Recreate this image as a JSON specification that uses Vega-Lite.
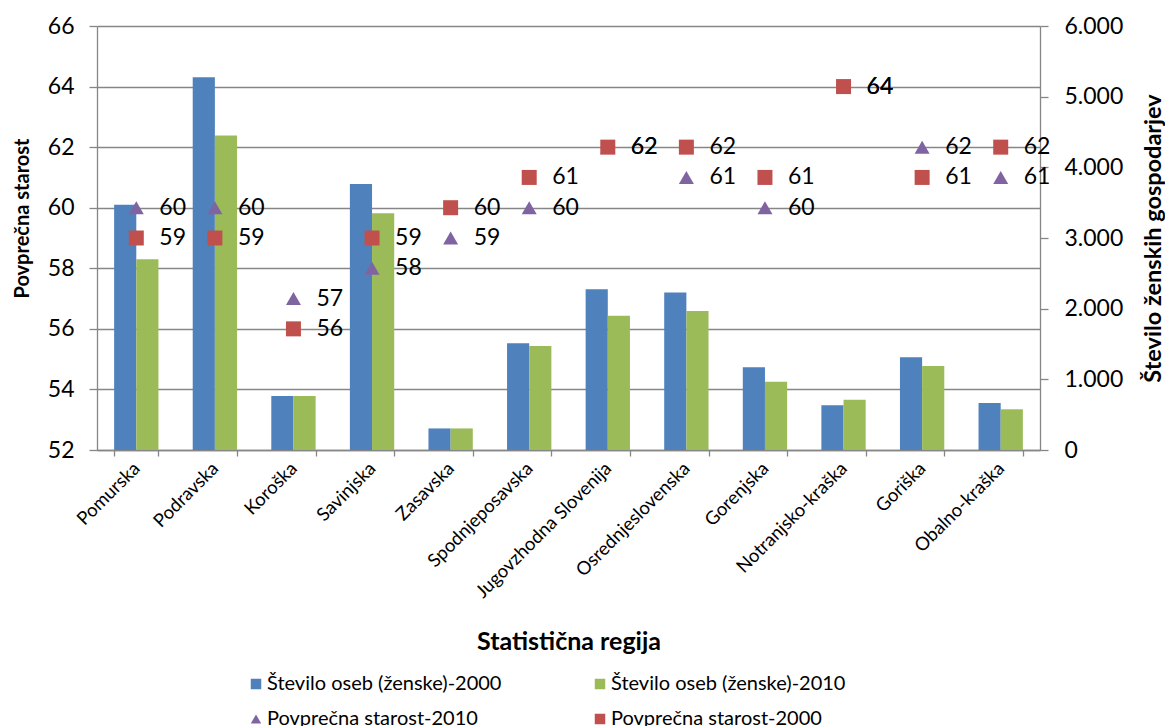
{
  "$schema": "https://vega.github.io/schema/vega-lite/v6.json",
  "width": 943,
  "height": 424,
  "autosize": {"type": "none"},
  "padding": {"left": 97, "top": 26, "right": 125, "bottom": 276},
  "background": "white",
  "config": {
    "font": "Lato",
    "view": {"stroke": null},
    "axis": {"labelColor": "black", "titleColor": "black", "domainColor": "#868686", "tickColor": "#868686", "domainWidth": 1.3, "tickWidth": 1.3}
  },
  "datasets": {
    "counts": [
      {"region": "Pomurska", "series": "Število oseb (ženske)-2000", "count": 3470},
      {"region": "Pomurska", "series": "Število oseb (ženske)-2010", "count": 2700},
      {"region": "Podravska", "series": "Število oseb (ženske)-2000", "count": 5275},
      {"region": "Podravska", "series": "Število oseb (ženske)-2010", "count": 4450},
      {"region": "Koroška", "series": "Število oseb (ženske)-2000", "count": 765},
      {"region": "Koroška", "series": "Število oseb (ženske)-2010", "count": 765},
      {"region": "Savinjska", "series": "Število oseb (ženske)-2000", "count": 3765},
      {"region": "Savinjska", "series": "Število oseb (ženske)-2010", "count": 3350},
      {"region": "Zasavska", "series": "Število oseb (ženske)-2000", "count": 305},
      {"region": "Zasavska", "series": "Število oseb (ženske)-2010", "count": 305},
      {"region": "Spodnjeposavska", "series": "Število oseb (ženske)-2000", "count": 1510},
      {"region": "Spodnjeposavska", "series": "Število oseb (ženske)-2010", "count": 1470},
      {"region": "Jugovzhodna Slovenija", "series": "Število oseb (ženske)-2000", "count": 2275},
      {"region": "Jugovzhodna Slovenija", "series": "Število oseb (ženske)-2010", "count": 1900},
      {"region": "Osrednjeslovenska", "series": "Število oseb (ženske)-2000", "count": 2230},
      {"region": "Osrednjeslovenska", "series": "Število oseb (ženske)-2010", "count": 1967},
      {"region": "Gorenjska", "series": "Število oseb (ženske)-2000", "count": 1170},
      {"region": "Gorenjska", "series": "Število oseb (ženske)-2010", "count": 967},
      {"region": "Notranjsko-kraška", "series": "Število oseb (ženske)-2000", "count": 632},
      {"region": "Notranjsko-kraška", "series": "Število oseb (ženske)-2010", "count": 712},
      {"region": "Goriška", "series": "Število oseb (ženske)-2000", "count": 1312},
      {"region": "Goriška", "series": "Število oseb (ženske)-2010", "count": 1189},
      {"region": "Obalno-kraška", "series": "Število oseb (ženske)-2000", "count": 665},
      {"region": "Obalno-kraška", "series": "Število oseb (ženske)-2010", "count": 576}
    ],
    "ages": [
      {"region": "Pomurska", "series": "Povprečna starost-2010", "age": 60},
      {"region": "Podravska", "series": "Povprečna starost-2010", "age": 60},
      {"region": "Koroška", "series": "Povprečna starost-2010", "age": 57},
      {"region": "Savinjska", "series": "Povprečna starost-2010", "age": 58},
      {"region": "Zasavska", "series": "Povprečna starost-2010", "age": 59},
      {"region": "Spodnjeposavska", "series": "Povprečna starost-2010", "age": 60},
      {"region": "Jugovzhodna Slovenija", "series": "Povprečna starost-2010", "age": 62},
      {"region": "Osrednjeslovenska", "series": "Povprečna starost-2010", "age": 61},
      {"region": "Gorenjska", "series": "Povprečna starost-2010", "age": 60},
      {"region": "Notranjsko-kraška", "series": "Povprečna starost-2010", "age": 64},
      {"region": "Goriška", "series": "Povprečna starost-2010", "age": 62},
      {"region": "Obalno-kraška", "series": "Povprečna starost-2010", "age": 61},
      {"region": "Pomurska", "series": "Povprečna starost-2000", "age": 59},
      {"region": "Podravska", "series": "Povprečna starost-2000", "age": 59},
      {"region": "Koroška", "series": "Povprečna starost-2000", "age": 56},
      {"region": "Savinjska", "series": "Povprečna starost-2000", "age": 59},
      {"region": "Zasavska", "series": "Povprečna starost-2000", "age": 60},
      {"region": "Spodnjeposavska", "series": "Povprečna starost-2000", "age": 61},
      {"region": "Jugovzhodna Slovenija", "series": "Povprečna starost-2000", "age": 62},
      {"region": "Osrednjeslovenska", "series": "Povprečna starost-2000", "age": 62},
      {"region": "Gorenjska", "series": "Povprečna starost-2000", "age": 61},
      {"region": "Notranjsko-kraška", "series": "Povprečna starost-2000", "age": 64},
      {"region": "Goriška", "series": "Povprečna starost-2000", "age": 61},
      {"region": "Obalno-kraška", "series": "Povprečna starost-2000", "age": 62}
    ]
  },
  "layer": [
    {
      "data": {"name": "counts"},
      "mark": {"type": "bar"},
      "encoding": {
        "x": {
          "field": "region", "type": "nominal",
          "sort": ["Pomurska", "Podravska", "Koroška", "Savinjska", "Zasavska", "Spodnjeposavska", "Jugovzhodna Slovenija", "Osrednjeslovenska", "Gorenjska", "Notranjsko-kraška", "Goriška", "Obalno-kraška"],
          "scale": {"paddingInner": 0.436, "paddingOuter": 0.218},
          "axis": {
            "labelAngle": -45, "labelFontSize": 18.5, "labelBaseline": "middle", "labelAlign": "right", "labelLimit": 0, "tickBand": "extent", "tickSize": 6, "labelPadding": 9,
            "title": "Statistična regija", "titleFontSize": 25, "titleFontWeight": "bold",
            "titleY": 191, "titleBaseline": "middle"
          }
        },
        "xOffset": {"field": "series", "type": "nominal", "sort": ["Število oseb (ženske)-2000", "Število oseb (ženske)-2010"]},
        "y": {
          "field": "count", "type": "quantitative",
          "scale": {"domain": [0, 6000], "nice": false},
          "axis": {
            "orient": "right", "values": [0, 1000, 2000, 3000, 4000, 5000, 6000], "grid": false,
            "labelExpr": "replace(format(datum.value, ','), ',', '.')",
            "labelFontSize": 23, "labelPadding": 16, "tickSize": 8,
            "title": "Število ženskih gospodarjev", "titleFontSize": 23.5, "titleFontWeight": "bold",
            "titleAngle": 270, "titleX": 113, "titleY": 212, "titleBaseline": "middle", "titleAlign": "center"
          }
        },
        "color": {
          "field": "series", "type": "nominal",
          "scale": {
            "domain": ["Število oseb (ženske)-2000", "Število oseb (ženske)-2010", "Povprečna starost-2010", "Povprečna starost-2000"],
            "range": ["#4F81BD", "#9BBB59", "#8064A2", "#C0504D"]
          },
          "legend": {
            "title": null, "orient": "none", "legendX": 149, "legendY": 648, "direction": "horizontal", "columns": 2,
            "columnPadding": 88, "rowPadding": 15, "labelFontSize": 20, "labelColor": "black", "labelOffset": 1, "labelLimit": 0,
            "symbolSize": 110, "symbolType": "square",
            "encode": {
              "symbols": {
                "update": {
                  "shape": {"signal": "indexof(datum.value, 'starost-2010') >= 0 ? 'triangle-up' : 'square'"},
                  "fill": {"scale": "color", "field": "value"},
                  "opacity": {"value": 1},
                  "strokeWidth": {"value": 0}
                }
              }
            }
          }
        }
      }
    },
    {
      "data": {"name": "ages"},
      "layer": [
        {
          "mark": {"type": "point", "filled": true, "size": 225, "opacity": 1},
          "encoding": {
            "x": {"field": "region", "type": "nominal", "sort": ["Pomurska", "Podravska", "Koroška", "Savinjska", "Zasavska", "Spodnjeposavska", "Jugovzhodna Slovenija", "Osrednjeslovenska", "Gorenjska", "Notranjsko-kraška", "Goriška", "Obalno-kraška"]},
            "y": {
              "field": "age", "type": "quantitative",
              "scale": {"domain": [52, 66], "nice": false, "zero": false},
              "axis": {
                "orient": "left", "values": [52, 54, 56, 58, 60, 62, 64, 66], "grid": true, "gridColor": "#868686", "gridWidth": 1.3,
                "labelFontSize": 23, "labelPadding": 15, "tickSize": 8,
                "title": "Povprečna starost", "titleFontSize": 20, "titleFontWeight": "bold",
                "titleX": -75, "titleY": 192, "titleBaseline": "middle", "titleAlign": "center", "titleAngle": 270
              }
            },
            "color": {"field": "series", "type": "nominal"},
            "shape": {
              "field": "series", "type": "nominal",
              "scale": {"domain": ["Povprečna starost-2010", "Povprečna starost-2000"], "range": ["triangle-up", "square"]},
              "legend": null
            }
          }
        },
        {
          "mark": {"type": "text", "align": "left", "baseline": "middle", "dx": 23, "fontSize": 23, "color": "black"},
          "encoding": {
            "x": {"field": "region", "type": "nominal", "sort": ["Pomurska", "Podravska", "Koroška", "Savinjska", "Zasavska", "Spodnjeposavska", "Jugovzhodna Slovenija", "Osrednjeslovenska", "Gorenjska", "Notranjsko-kraška", "Goriška", "Obalno-kraška"]},
            "y": {
              "field": "age", "type": "quantitative",
              "axis": {
                "orient": "left", "values": [52, 54, 56, 58, 60, 62, 64, 66], "grid": true, "gridColor": "#868686", "gridWidth": 1.3,
                "labelFontSize": 23, "labelPadding": 15, "tickSize": 8,
                "title": "Povprečna starost", "titleFontSize": 20, "titleFontWeight": "bold",
                "titleX": -75, "titleY": 192, "titleBaseline": "middle", "titleAlign": "center", "titleAngle": 270
              }
            },
            "text": {"field": "age", "type": "quantitative"}
          }
        }
      ]
    }
  ],
  "resolve": {"scale": {"y": "independent"}, "axis": {"y": "independent"}}
}
